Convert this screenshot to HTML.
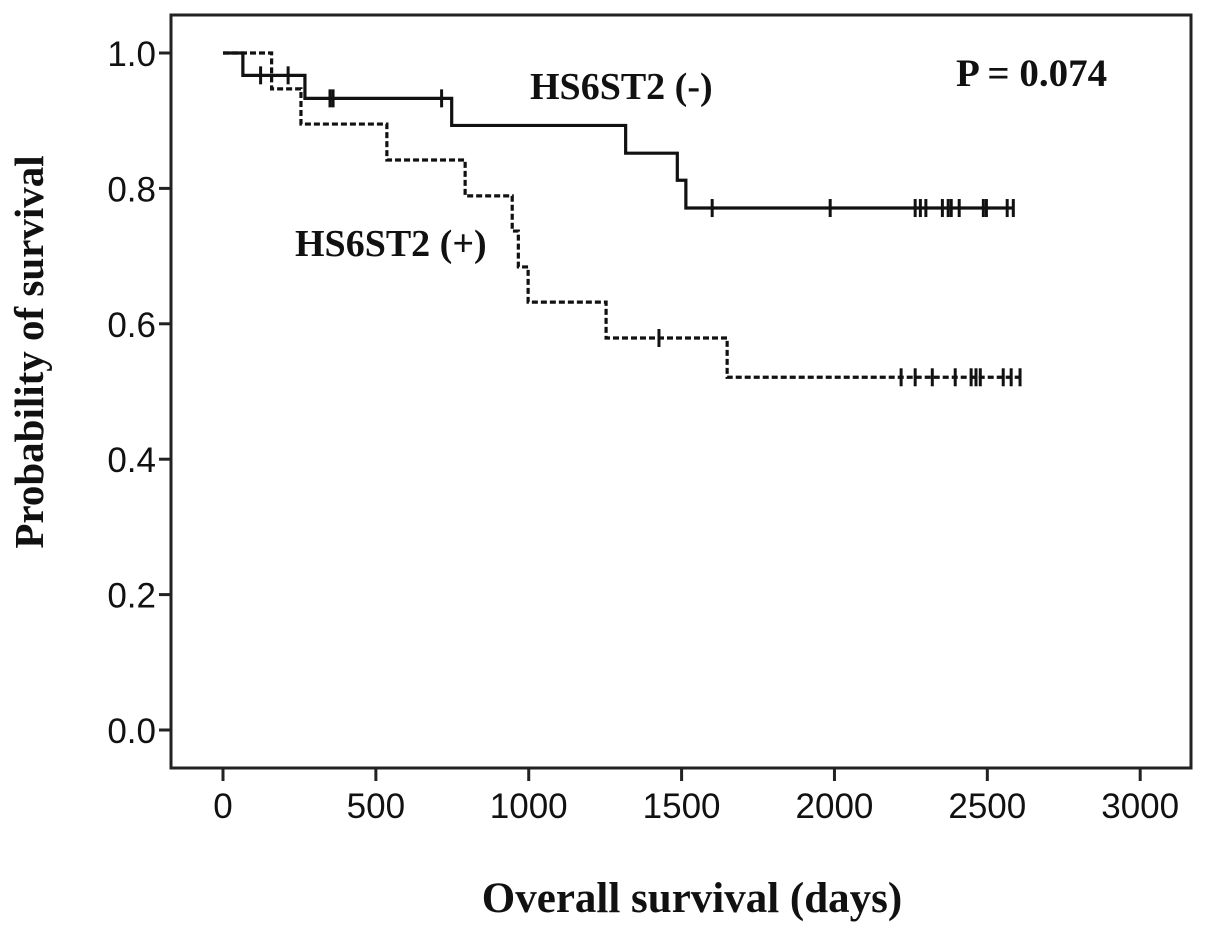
<!DOCTYPE html>
<html><head><meta charset="utf-8"><style>
html,body{margin:0;padding:0;background:#fff;}
svg{display:block;}
.tk{font-family:"Liberation Sans",Arial,sans-serif;font-size:35px;fill:#111;}
.bt{font-family:"Liberation Serif","Times New Roman",serif;font-weight:bold;fill:#111;}
</style></head><body>
<svg id="chart" width="1205" height="940" viewBox="0 0 1205 940">
<rect x="171" y="15" width="1020" height="753" fill="none" stroke="#222" stroke-width="3"/>
<g id="axes"></g>
<g id="series"></g>
<text class="bt" x="530" y="99" font-size="38">HS6ST2 (-)</text>
<text class="bt" x="295" y="256" font-size="38">HS6ST2 (+)</text>
<text class="bt" x="956" y="86" font-size="39">P = 0.074</text>
<text class="bt" x="692" y="912" font-size="43" text-anchor="middle">Overall survival (days)</text>
<text class="bt" transform="translate(43,352) rotate(-90)" font-size="41" text-anchor="middle">Probability of survival</text>
</svg>
<script>
const xTicks = [0, 500, 1000, 1500, 2000, 2500, 3000];
const yTicks = [0.0, 0.2, 0.4, 0.6, 0.8, 1.0];
const negTimes = [0, 65, 268, 748, 1317, 1486, 1514];
const negSurv = [1, 0.967, 0.933, 0.893, 0.852, 0.812, 0.771];
const negEnd = 2585;
const negCensor = [123, 213, 350, 360, 715, 1600, 1986, 2264, 2281, 2299, 2353, 2372, 2382, 2408, 2487, 2497, 2565, 2585];
const posTimes = [0, 159, 255, 536, 792, 946, 966, 998, 1253, 1649];
const posSurv = [1, 0.947, 0.895, 0.842, 0.789, 0.737, 0.684, 0.632, 0.579, 0.521];
const posEnd = 2607;
const posCensor = [1426, 2218, 2264, 2320, 2395, 2447, 2463, 2477, 2552, 2578, 2607];

const NS = "http://www.w3.org/2000/svg";
function X(d){ return 223 + d * 0.30573; }
function Y(p){ return 730 - p * 677; }
function mk(tag, attrs, parent){ const e = document.createElementNS(NS, tag); for (const k in attrs) e.setAttribute(k, attrs[k]); parent.appendChild(e); return e; }
const axes = document.getElementById('axes');
const series = document.getElementById('series');

xTicks.forEach(t => {
  const l = mk('line', {x1:X(t), x2:X(t), y1:768, y2:781, stroke:'#222', 'stroke-width':3}, axes);
  
  
  const tx = mk('text', {x:X(t), y:818, 'text-anchor':'middle', class:'tk'}, axes);
  tx.textContent = String(t);
  
  
});
yTicks.forEach(t => {
  const l = mk('line', {x1:159, x2:171, y1:Y(t), y2:Y(t), stroke:'#222', 'stroke-width':3}, axes);
  
  
  const tx = mk('text', {x:156, y:Y(t)+13, 'text-anchor':'end', class:'tk'}, axes);
  tx.textContent = t.toFixed(1);
  
  
});

function survAt(times, surv, d){ let s = surv[0]; for (let i = 0; i < times.length; i++){ if (times[i] <= d) s = surv[i]; } return s; }
function drawCurve(times, surv, end, censor, dashed, name){
  let d = 'M' + X(times[0]) + ' ' + Y(surv[0]);
  for (let i = 1; i < times.length; i++){
    d += ' H' + X(times[i]) + ' V' + Y(surv[i]);
  }
  d += ' H' + X(end);
  const p = mk('path', {d:d, fill:'none', stroke:'#111', 'stroke-width':3.2}, series);
  if (dashed) p.setAttribute('stroke-dasharray', '6 3');
  
  
  censor.forEach(c => {
    const yy = Y(survAt(times, surv, c));
    const m = mk('line', {x1:X(c), x2:X(c), y1:yy-9, y2:yy+9, stroke:'#111', 'stroke-width':3}, series);
    
    
  });
}
drawCurve(negTimes, negSurv, negEnd, negCensor, false, 'hs6st2-negative');
drawCurve(posTimes, posSurv, posEnd, posCensor, true, 'hs6st2-positive');
</script>
</body></html>
